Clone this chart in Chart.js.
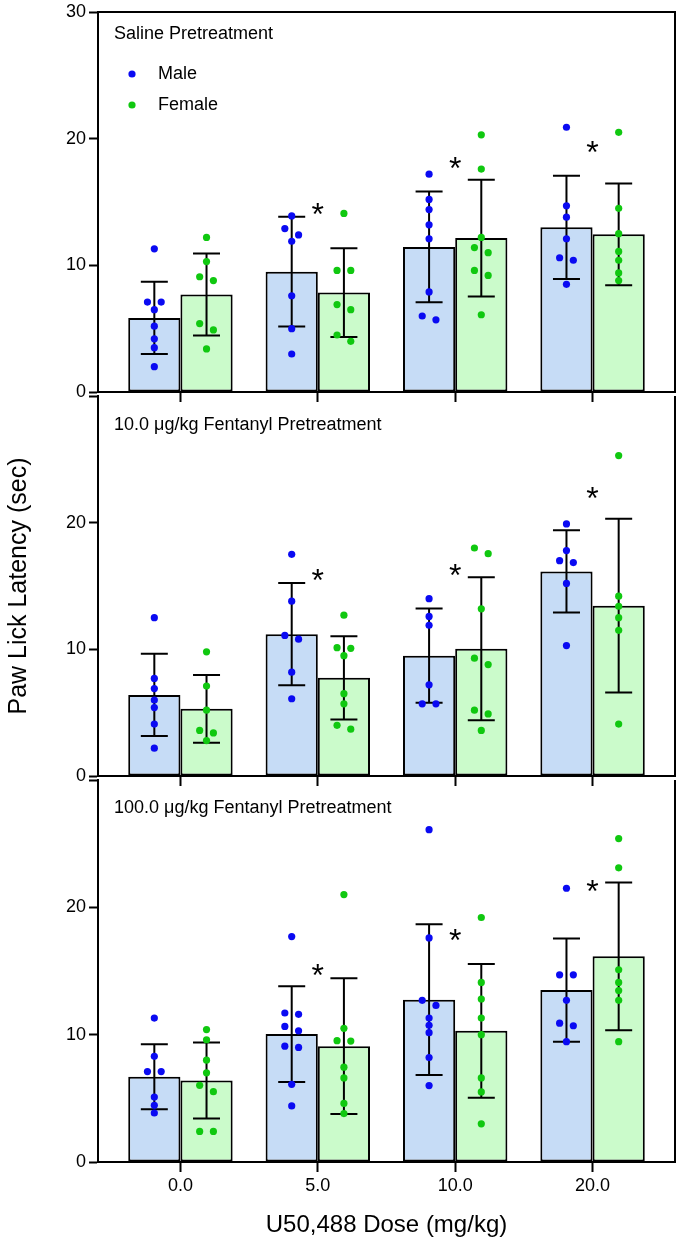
<!DOCTYPE html>
<html>
<head>
<meta charset="utf-8">
<script src="https://cdn.jsdelivr.net/npm/chart.js@4.4.1/dist/chart.umd.min.js"></script>
<style>
  html, body { margin: 0; padding: 0; background: #ffffff; }
  #wrap { position: relative; width: 680px; height: 1244px; }
  .pane { position: absolute; left: 0; width: 680px; }
</style>
</head>
<body>
<div id="wrap">
  <div class="pane" style="top:0px;height:404px"><canvas id="c1"></canvas></div>
  <div class="pane" style="top:384px;height:404px"><canvas id="c2"></canvas></div>
  <div class="pane" style="top:768px;height:476px"><canvas id="c3"></canvas></div>
</div>
<script>
// ---------------- DATA ----------------
const doseLabels = ['0.0', '5.0', '10.0', '20.0'];
const yTickValues = [0, 10, 20, 30];
const panelTitles = ['Saline Pretreatment', '10.0 \u03BCg/kg Fentanyl Pretreatment', '100.0 \u03BCg/kg Fentanyl Pretreatment'];
const seriesNames = ['Male', 'Female'];
const yAxisTitle = 'Paw Lick Latency (sec)';
const xAxisTitle = 'U50,488 Dose (mg/kg)';

// Saline pretreatment
const salineMaleMean   = [5.85, 9.5, 11.45, 13.0];
const salineMaleSD     = [2.85, 4.33, 4.37, 4.07];
const salineFemaleMean = [7.7, 7.85, 12.15, 12.45];
const salineFemaleSD   = [3.23, 3.5, 4.61, 4.02];
const salineMalePoints = [
  [11.3, 7.1, 7.1, 6.5, 5.2, 4.2, 3.5, 2.0],
  [13.9, 12.9, 12.4, 11.9, 7.6, 5.0, 3.0],
  [17.2, 15.2, 14.4, 13.2, 12.1, 7.9, 6.0, 5.7],
  [20.9, 14.7, 13.8, 12.1, 10.6, 10.4, 8.5]
];
const salineFemalePoints = [
  [12.2, 10.3, 9.1, 8.8, 5.4, 4.9, 3.4],
  [14.1, 9.6, 9.6, 6.9, 6.5, 4.5, 4.0],
  [20.3, 17.6, 12.2, 11.4, 11.0, 9.6, 9.2, 6.1],
  [20.5, 14.5, 12.5, 11.1, 10.4, 9.4, 8.8]
];
const salineStars = [null, 14.6, 18.2, 19.5];

// 10.0 ug/kg fentanyl pretreatment
const fent10MaleMean   = [6.4, 11.2, 9.5, 16.15];
const fent10MaleSD     = [3.25, 4.04, 3.72, 3.25];
const fent10FemaleMean = [5.3, 7.75, 10.05, 13.45];
const fent10FemaleSD   = [2.68, 3.28, 5.65, 6.85];
const fent10MalePoints = [
  [12.5, 7.7, 6.9, 6.0, 5.4, 4.1, 2.2],
  [17.5, 13.8, 11.1, 10.8, 8.2, 6.1],
  [14.0, 12.6, 11.9, 7.2, 5.7, 5.7],
  [19.9, 17.8, 17.0, 16.85, 15.2, 10.3]
];
const fent10FemalePoints = [
  [9.8, 7.1, 5.2, 3.6, 3.4, 2.8],
  [12.7, 10.13, 10.08, 9.5, 6.5, 5.7, 4.0, 3.7],
  [18.0, 17.55, 13.2, 9.3, 8.8, 5.2, 4.9, 3.6],
  [25.3, 14.2, 13.4, 12.5, 11.5, 4.1]
];
const fent10Stars = [null, 16.0, 16.4, 22.5];

// 100.0 ug/kg fentanyl pretreatment
const fent100MaleMean   = [6.7, 10.05, 12.75, 13.5];
const fent100MaleSD     = [2.55, 3.76, 5.92, 4.05];
const fent100FemaleMean = [6.4, 9.1, 10.3, 16.15];
const fent100FemaleSD   = [2.98, 5.33, 5.25, 5.8];
const fent100MalePoints = [
  [11.3, 8.3, 7.1, 7.1, 5.1, 4.45, 3.85],
  [17.7, 11.7, 11.6, 10.65, 10.3, 9.1, 9.0, 6.1, 4.4],
  [26.1, 17.6, 12.7, 12.3, 11.3, 10.73, 10.16, 8.2, 6.0],
  [21.5, 14.7, 14.7, 12.7, 10.9, 10.7, 9.45]
];
const fent100FemalePoints = [
  [10.4, 9.6, 8.0, 7.0, 6.02, 5.52, 2.4, 2.4],
  [21.0, 10.5, 9.53, 9.5, 7.45, 6.6, 4.6, 3.8],
  [19.2, 14.1, 12.8, 11.3, 10.0, 6.6, 5.5, 3.0],
  [25.4, 23.1, 15.1, 14.1, 13.46, 12.7, 9.45]
];
const fent100Stars = [null, 15.2, 18.0, 21.8];

// ---------------- STYLE ----------------
const FONT = "Arial, 'Liberation Sans', Helvetica, sans-serif";
const MALE_FILL = '#c6dcf6';
const FEMALE_FILL = '#cbfbcb';
const MALE_DOT = '#0a0af2';
const FEMALE_DOT = '#10c810';
const CAT_PCT = 0.76;          // fraction of category spacing filled by the two bars
const PAIR_GAP = 0.55;         // values closer than this are drawn side by side
const SPREAD = 0.05;           // side-by-side offset in category units
const ERR_CAP = 13.5;          // half-width of error bar caps, px

function sideBySide(values) {
  const order = values.map((v, i) => i).sort((a, b) => values[b] - values[a]);
  const off = new Array(values.length).fill(0);
  for (let k = 0; k < order.length; k++) {
    const a = order[k], b = order[k + 1];
    if (b !== undefined && values[a] - values[b] < PAIR_GAP) {
      off[a] = -SPREAD; off[b] = SPREAD; k++;
    }
  }
  return off;
}

function pointData(groups, side) {
  const res = [];
  groups.forEach((vals, i) => {
    const off = sideBySide(vals);
    vals.forEach((v, j) => res.push({ x: i + side * CAT_PCT / 4 + off[j], y: v }));
  });
  return res;
}

function barData(means) {
  return means.map((m, i) => ({ x: i, y: m }));
}

// ---------------- PLUGINS ----------------
const errorBarPlugin = {
  id: 'errorBars',
  afterDatasetDraw(chart, args) {
    const ds = chart.data.datasets[args.index];
    if (!ds.errorSD) return;
    const y = chart.scales.y;
    const ctx = chart.ctx;
    ctx.save();
    ctx.strokeStyle = '#000';
    ctx.lineWidth = 2;
    ctx.lineCap = 'butt';
    args.meta.data.forEach((bar, i) => {
      const m = ds.data[i].y, s = ds.errorSD[i];
      const yt = y.getPixelForValue(m + s), yb = y.getPixelForValue(m - s);
      const x = bar.x;
      ctx.beginPath();
      ctx.moveTo(x, yt); ctx.lineTo(x, yb);
      ctx.moveTo(x - ERR_CAP, yt); ctx.lineTo(x + ERR_CAP, yt);
      ctx.moveTo(x - ERR_CAP, yb); ctx.lineTo(x + ERR_CAP, yb);
      ctx.stroke();
    });
    ctx.restore();
  }
};

const decorPlugin = {
  id: 'decor',
  afterDraw(chart, args, opts) {
    const ctx = chart.ctx;
    const { left, right, top, bottom } = chart.chartArea;
    const xs = chart.scales.x, ys = chart.scales.y;
    ctx.save();
    // frame
    ctx.strokeStyle = '#000';
    ctx.lineWidth = 2;
    ctx.beginPath();
    if (opts.topLine) { ctx.moveTo(left, top); ctx.lineTo(right + 1, top); }
    ctx.moveTo(right, top); ctx.lineTo(right, bottom);
    ctx.stroke();
    // panel title
    ctx.fillStyle = '#000';
    ctx.font = '18px ' + FONT;
    ctx.textAlign = 'left';
    ctx.textBaseline = 'middle';
    ctx.fillText(opts.title, left + 16, top + opts.titleDy);
    // legend
    if (opts.legend) {
      const items = [
        { label: seriesNames[0], color: MALE_DOT, dy: 62 },
        { label: seriesNames[1], color: FEMALE_DOT, dy: 93 }
      ];
      items.forEach(it => {
        ctx.fillStyle = it.color;
        ctx.beginPath();
        ctx.arc(left + 34, top + it.dy, 3.6, 0, Math.PI * 2);
        ctx.fill();
        ctx.fillStyle = '#000';
        ctx.fillText(it.label, left + 60, top + it.dy);
      });
    }
    // significance stars
    ctx.fillStyle = '#000';
    ctx.font = '32px ' + FONT;
    ctx.textAlign = 'center';
    ctx.textBaseline = 'alphabetic';
    opts.stars.forEach((v, i) => {
      if (v === null) return;
      ctx.fillText('*', xs.getPixelForValue(i), ys.getPixelForValue(v) + 18);
    });
    ctx.restore();
  }
};

// ---------------- CHARTS ----------------
function makePanel(id, p) {
  const ctx = document.getElementById(id);
  return new Chart(ctx, {
    type: 'bar',
    data: {
      datasets: [
        { type: 'bar', label: seriesNames[0], data: barData(p.maleMean), errorSD: p.maleSD,
          backgroundColor: MALE_FILL, borderColor: '#000', borderWidth: 2, borderSkipped: false,
          categoryPercentage: CAT_PCT, barPercentage: 1, order: 2 },
        { type: 'bar', label: seriesNames[1], data: barData(p.femaleMean), errorSD: p.femaleSD,
          backgroundColor: FEMALE_FILL, borderColor: '#000', borderWidth: 2, borderSkipped: false,
          categoryPercentage: CAT_PCT, barPercentage: 1, order: 2 },
        { type: 'scatter', label: seriesNames[0] + ' points', data: pointData(p.malePts, -1),
          backgroundColor: MALE_DOT, borderWidth: 0, pointRadius: 3.6, order: 1 },
        { type: 'scatter', label: seriesNames[1] + ' points', data: pointData(p.femalePts, 1),
          backgroundColor: FEMALE_DOT, borderWidth: 0, pointRadius: 3.6, order: 1 }
      ]
    },
    options: {
      responsive: true,
      maintainAspectRatio: false,
      animation: false,
      events: [],
      layout: { padding: { top: 10, left: 0, right: 5, bottom: 0 } },
      plugins: {
        legend: { display: false },
        tooltip: { enabled: false },
        decor: { title: p.title, titleDy: p.titleDy, legend: p.legend, topLine: p.first, stars: p.stars }
      },
      scales: {
        x: {
          type: 'linear',
          offset: false,
          min: -0.6,
          max: 3.6,
          afterBuildTicks: (s) => { s.ticks = doseLabels.map((_, i) => ({ value: i })); },
          afterFit: (s) => { s.height = p.last ? 82 : 10; },
          grid: { offset: false, drawOnChartArea: false, drawTicks: true, tickLength: 10, tickWidth: 2, tickColor: '#000', color: '#000' },
          border: { display: true, color: '#000', width: 2 },
          ticks: {
            display: p.last,
            color: '#000',
            padding: 3,
            font: { family: FONT, size: 18 },
            callback: (v) => doseLabels[v]
          },
          title: {
            display: p.last,
            text: xAxisTitle,
            color: '#000',
            font: { family: FONT, size: 24 },
            padding: { top: 4, bottom: 4 }
          }
        },
        y: {
          min: 0,
          max: 30,
          afterBuildTicks: (s) => { s.ticks = yTickValues.map(v => ({ value: v })); },
          afterFit: (s) => { s.width = 98; },
          grid: { drawOnChartArea: false, drawTicks: true, tickLength: 9, tickWidth: 2, tickColor: '#000', color: '#000' },
          border: { display: true, color: '#000', width: 2 },
          ticks: {
            color: '#000',
            padding: 3,
            font: { family: FONT, size: 18, lineHeight: 1 },
            callback: (v) => (v === 30 && !p.first) ? '' : String(v)
          },
          title: {
            display: p.middle,
            text: yAxisTitle,
            color: '#000',
            font: { family: FONT, size: 25 },
            padding: { top: 4, bottom: 4 }
          }
        }
      }
    },
    plugins: [errorBarPlugin, decorPlugin]
  });
}

makePanel('c1', {
  title: panelTitles[0], titleDy: 22.5, legend: true, first: true, middle: false, last: false,
  maleMean: salineMaleMean, maleSD: salineMaleSD, femaleMean: salineFemaleMean, femaleSD: salineFemaleSD,
  malePts: salineMalePoints, femalePts: salineFemalePoints, stars: salineStars
});
makePanel('c2', {
  title: panelTitles[1], titleDy: 29, legend: false, first: false, middle: true, last: false,
  maleMean: fent10MaleMean, maleSD: fent10MaleSD, femaleMean: fent10FemaleMean, femaleSD: fent10FemaleSD,
  malePts: fent10MalePoints, femalePts: fent10FemalePoints, stars: fent10Stars
});
makePanel('c3', {
  title: panelTitles[2], titleDy: 28, legend: false, first: false, middle: false, last: true,
  maleMean: fent100MaleMean, maleSD: fent100MaleSD, femaleMean: fent100FemaleMean, femaleSD: fent100FemaleSD,
  malePts: fent100MalePoints, femalePts: fent100FemalePoints, stars: fent100Stars
});
</script>
</body>
</html>
